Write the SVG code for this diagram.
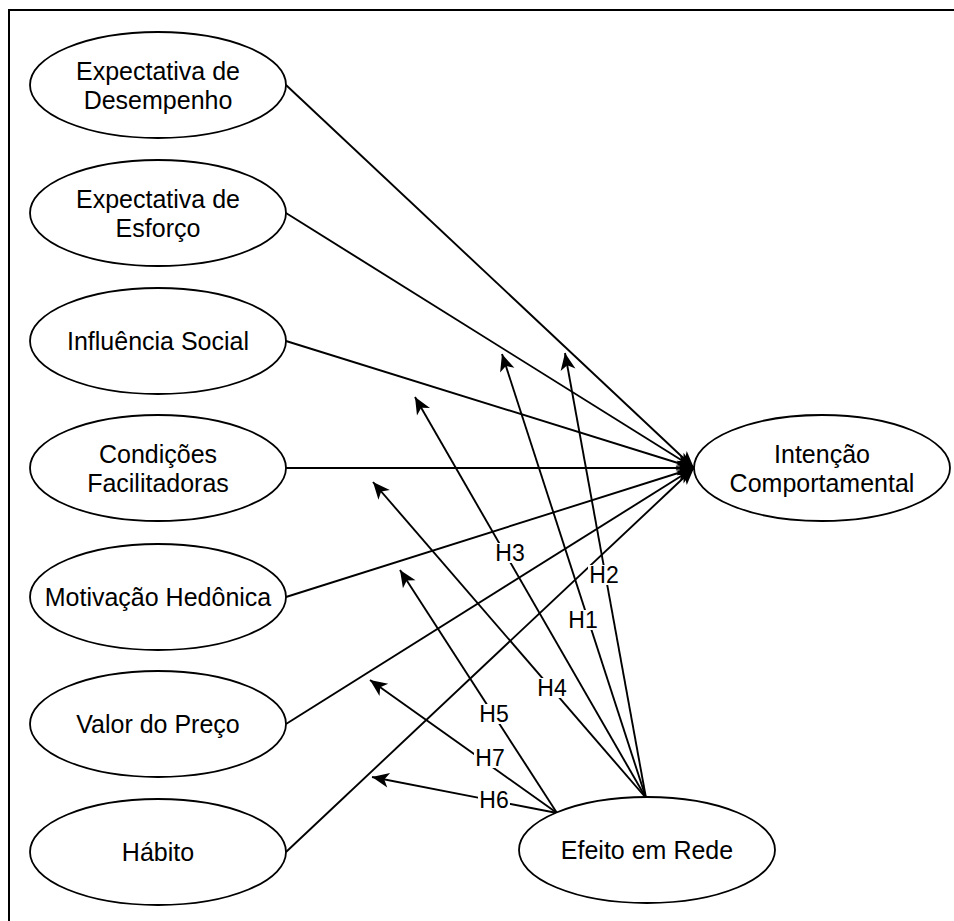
<svg xmlns="http://www.w3.org/2000/svg" width="954" height="921" viewBox="0 0 954 921">
<style>
.n{fill:#fff;stroke:#000;stroke-width:1.8}
.t{font-family:"Liberation Sans",Arial,sans-serif;font-size:25px;fill:#000;text-anchor:middle}
.c{fill:none;stroke:#000;stroke-width:1.9}
.lb{fill:#fff}
.lt{font-family:"Liberation Sans",Arial,sans-serif;font-size:23px;fill:#000;text-anchor:middle}
</style>
<defs>
<marker id="arr" markerUnits="userSpaceOnUse" markerWidth="20" markerHeight="18" viewBox="-18 -9 20 18" refX="0" refY="0" orient="auto">
<path d="M0,0 L-17,-7.5 L-12.5,0 L-17,7.5 Z" fill="#000"/>
</marker>
</defs>
<rect x="0" y="0" width="954" height="921" fill="#fff"/>
<rect x="9" y="10" width="1000" height="1000" fill="none" stroke="#000" stroke-width="2"/>
<g id="connectors">
<line class="c" x1="286" y1="85" x2="694" y2="468" marker-end="url(#arr)"/>
<line class="c" x1="286" y1="213" x2="694" y2="468" marker-end="url(#arr)"/>
<line class="c" x1="286" y1="341" x2="694" y2="468" marker-end="url(#arr)"/>
<line class="c" x1="286" y1="468" x2="694" y2="468" marker-end="url(#arr)"/>
<line class="c" x1="286" y1="597" x2="694" y2="468" marker-end="url(#arr)"/>
<line class="c" x1="286" y1="724" x2="694" y2="468" marker-end="url(#arr)"/>
<line class="c" x1="286" y1="852" x2="694" y2="468" marker-end="url(#arr)"/>
<line class="c" x1="646" y1="798" x2="502" y2="354" marker-end="url(#arr)"/>
<line class="c" x1="646" y1="798" x2="565" y2="353" marker-end="url(#arr)"/>
<line class="c" x1="646" y1="798" x2="415" y2="397" marker-end="url(#arr)"/>
<line class="c" x1="646" y1="798" x2="373" y2="482" marker-end="url(#arr)"/>
<line class="c" x1="557" y1="813" x2="400" y2="570" marker-end="url(#arr)"/>
<line class="c" x1="557" y1="813" x2="372" y2="777" marker-end="url(#arr)"/>
<line class="c" x1="557" y1="813" x2="370" y2="680" marker-end="url(#arr)"/>
<g id="labels">
<rect class="lb" x="494" y="543" width="32" height="20"/><text class="lt" x="510" y="561">H3</text>
<rect class="lb" x="588" y="565" width="32" height="20"/><text class="lt" x="604" y="583">H2</text>
<rect class="lb" x="567" y="610" width="32" height="20"/><text class="lt" x="583" y="628">H1</text>
<rect class="lb" x="536" y="678" width="32" height="20"/><text class="lt" x="552" y="696">H4</text>
<rect class="lb" x="478" y="704" width="32" height="20"/><text class="lt" x="494" y="722">H5</text>
<rect class="lb" x="474" y="748" width="32" height="20"/><text class="lt" x="490" y="766">H7</text>
<rect class="lb" x="478" y="790" width="32" height="20"/><text class="lt" x="494" y="808">H6</text>
</g>
</g>
<g id="n1"><ellipse class="n" cx="158" cy="85" rx="128" ry="53"/><text class="t" x="158" y="80">Expectativa de</text><text class="t" x="158" y="109">Desempenho</text></g>
<g id="n2"><ellipse class="n" cx="158" cy="213" rx="128" ry="53"/><text class="t" x="158" y="208">Expectativa de</text><text class="t" x="158" y="237">Esforço</text></g>
<g id="n3"><ellipse class="n" cx="158" cy="341" rx="128" ry="53"/><text class="t" x="158" y="350">Influência Social</text></g>
<g id="n4"><ellipse class="n" cx="158" cy="468" rx="128" ry="53"/><text class="t" x="158" y="463">Condições</text><text class="t" x="158" y="492">Facilitadoras</text></g>
<g id="n5"><ellipse class="n" cx="158" cy="597" rx="128" ry="53"/><text class="t" x="158" y="606">Motivação Hedônica</text></g>
<g id="n6"><ellipse class="n" cx="158" cy="724" rx="128" ry="53"/><text class="t" x="158" y="733">Valor do Preço</text></g>
<g id="n7"><ellipse class="n" cx="158" cy="852" rx="128" ry="53"/><text class="t" x="158" y="861">Hábito</text></g>
<g id="n8"><ellipse class="n" cx="822" cy="468" rx="128" ry="53"/><text class="t" x="822" y="463">Intenção</text><text class="t" x="822" y="492">Comportamental</text></g>
<g id="n9"><ellipse class="n" cx="647" cy="850" rx="128" ry="53"/><text class="t" x="647" y="859">Efeito em Rede</text></g>
</svg>
